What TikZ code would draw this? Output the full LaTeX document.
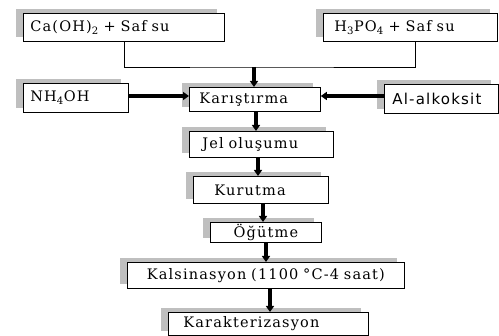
\documentclass[tikz,border=0pt]{standalone}
\usepackage{fontspec}
\setmainfont[LetterSpace=8]{DejaVu Serif}
\newfontfamily\alsans[LetterSpace=8]{DejaVu Sans}
\usetikzlibrary{arrows.meta, shadows}

\begin{document}
\begin{tikzpicture}[x=1pt, y=-1pt, font=\fontsize{14.5}{17}\selectfont,
    box/.style={draw, line width=0.8pt, fill=white, anchor=north west, inner ysep=0pt, align=left,
      drop shadow={shadow xshift=-7pt, shadow yshift=4.5pt, fill=gray!50, opacity=1}},
    link/.style={line width=0.8pt},
    flow/.style={line width=3.5pt, -{Triangle[width=8pt, length=6pt]}}]
  \useasboundingbox (0,0) rectangle (499,336);

  \node[box, text width=187pt, inner xsep=7pt, minimum height=28pt] (caoh) at (23,13) {Ca(OH)\textsubscript{2} + Saf su};
  \node[box, text width=152pt, inner xsep=11pt, minimum height=28pt] (h3po4) at (323,13) {H\textsubscript{3}PO\textsubscript{4} + Saf su};

  \node[box, text width=91pt, inner xsep=7pt, minimum height=29pt] (nh4oh) at (23,83) {NH\textsubscript{4}OH};
  \node[box, text width=111pt, inner xsep=10pt, minimum height=24pt] (karis) at (189,87) {Karıştırma};
  \node[box, text width=98pt, inner xsep=8pt, minimum height=29pt, font=\alsans\fontsize{15}{17}\selectfont] (alalk) at (384,84) {Al-alkoksit};

  \node[box, text width=118pt, inner xsep=13pt, minimum height=26pt] (jel) at (189,131) {Jel oluşumu};
  \node[box, text width=93pt, inner xsep=21pt, minimum height=27pt] (kurut) at (193,176) {Kurutma};
  \node[box, text width=101pt, inner xsep=5pt, minimum height=20pt, align=center] (ogut) at (210,222) {Öğütme};
  \node[box, text width=267pt, inner xsep=5pt, minimum height=26pt, align=center] (kalsin) at (127,262) {Kalsinasyon (1100 °C-4 saat)};
  \node[box, text width=170pt, inner xsep=15pt, minimum height=23pt] (karak) at (168,312) {Karakterizasyon};

  \coordinate (mix) at (254,67);
  \draw[link] (caoh.south) |- (mix) -| ([xshift=5pt]h3po4.south);
  \draw[flow] (mix) -- (mix |- karis.north);
  \draw[flow] (nh4oh.east |- 0,96) -- (karis.west |- 0,96);
  \draw[flow] (alalk.west |- 0,96) -- (karis.east |- 0,96);

  \draw[flow] (karis.south -| 256,0) -- (jel.north -| 256,0);
  \draw[flow] (jel.south -| 258,0) -- (kurut.north -| 258,0);
  \draw[flow] (kurut.south -| 263,0) -- (ogut.north -| 263,0);
  \draw[flow] (ogut.south -| 266,0) -- (kalsin.north -| 266,0);
  \draw[flow] (kalsin.south -| 270,0) -- (karak.north -| 270,0);
\end{tikzpicture}
\end{document}
